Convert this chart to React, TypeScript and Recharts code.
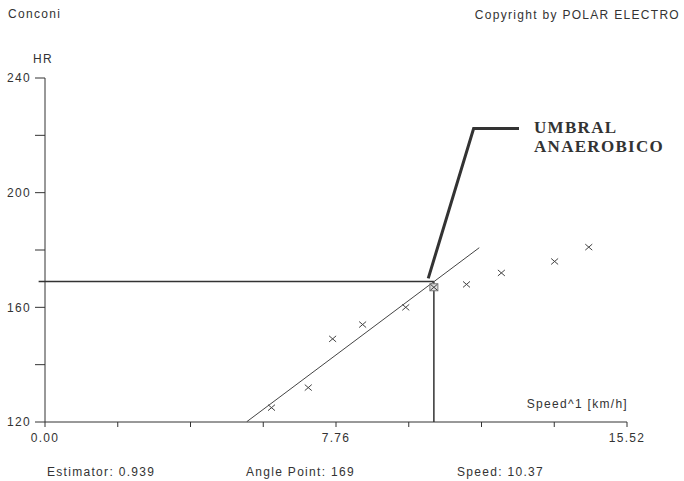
import { ComposedChart, Scatter, XAxis, YAxis, ReferenceLine } from 'recharts'

// Conconi test: running speed (km/h) vs heart rate
const speed = [6.04, 7.02, 7.67, 8.47, 9.62, 10.37, 11.24, 12.17, 13.59, 14.5]
const heartRate = [125, 132, 149, 154, 160, 167, 168, 172, 176, 181]

// regression line through the linear part
const fitSpeed = [5.38, 11.58]
const fitHR = [120.1, 180.8]

// callout leader pointing at the deflection point
const calloutSpeed = [10.22, 11.43, 12.64]
const calloutHR = [170.1, 222.4, 222.4]

const anglePointSpeed = 10.37
const anglePointHR = 169
const anglePointIndex = 5
const estimator = 0.939

const xTicks = [0, 1.94, 3.88, 5.82, 7.76, 9.7, 11.64, 13.58, 15.52]
const xLabeled = [0, 7.76, 15.52]
const yTicks = [120, 140, 160, 180, 200, 220, 240]
const yLabeled = [120, 160, 200, 240]

const points = speed.map((x, i) => ({ x, y: heartRate[i] }))
const fitLine = fitSpeed.map((x, i) => ({ x, y: fitHR[i] }))
const callout = calloutSpeed.map((x, i) => ({ x, y: calloutHR[i] }))

const INK = '#333'
const FONT = '"Liberation Sans", Arial, sans-serif'

function Cross(props: any) {
  const { cx, cy, index } = props
  if (cx == null || cy == null) return <g />
  return (
    <g stroke="#444" strokeWidth={1}>
      {index === anglePointIndex && (
        <rect x={cx - 4} y={cy - 3.5} width={8} height={7} fill="#ddd" stroke="#777" />
      )}
      <line x1={cx - 3.5} y1={cy - 3} x2={cx + 3.5} y2={cy + 3} />
      <line x1={cx - 3.5} y1={cy + 3} x2={cx + 3.5} y2={cy - 3} />
    </g>
  )
}

const noDot = () => <g />

export default function App() {
  const textStyle = { fill: INK, fontSize: 12, fontFamily: FONT, letterSpacing: 1.3 }

  return (
    <div style={{ position: 'absolute', left: 0, top: 0, width: 684, height: 481, background: '#fff' }}>
      <ComposedChart width={684} height={481} margin={{ top: 78, right: 57, bottom: 0, left: 0 }}>
        <XAxis
          type="number"
          dataKey="x"
          domain={[0, 15.52]}
          ticks={xTicks}
          interval={0}
          height={59}
          tickSize={5}
          tickMargin={6}
          stroke={INK}
          tick={textStyle}
          tickFormatter={(v: number) => (xLabeled.includes(v) ? v.toFixed(2) : '')}
          allowDataOverflow
        />
        <YAxis
          type="number"
          dataKey="y"
          domain={[120, 240]}
          ticks={yTicks}
          interval={0}
          width={45}
          tickSize={10}
          tickMargin={4}
          stroke={INK}
          tick={textStyle}
          tickFormatter={(v: number) => (yLabeled.includes(v) ? String(v) : '')}
          allowDataOverflow
        />
        <ReferenceLine
          segment={[{ x: -0.17, y: anglePointHR }, { x: anglePointSpeed, y: anglePointHR }]}
          stroke={INK}
          strokeWidth={1.5}
          ifOverflow="visible"
        />
        <ReferenceLine
          segment={[{ x: anglePointSpeed, y: 120 }, { x: anglePointSpeed, y: anglePointHR }]}
          stroke={INK}
          strokeWidth={1.5}
          ifOverflow="visible"
        />
        <Scatter data={fitLine} line={{ stroke: '#444', strokeWidth: 1 }} shape={noDot} isAnimationActive={false} />
        <Scatter data={callout} line={{ stroke: INK, strokeWidth: 3 }} shape={noDot} isAnimationActive={false} />
        <Scatter data={points} shape={<Cross />} isAnimationActive={false} />
      </ComposedChart>
      <svg width={684} height={481} style={{ position: 'absolute', left: 0, top: 0, pointerEvents: 'none' }}>
        <text x={8} y={18} style={textStyle}>Conconi</text>
        <text x={680} y={19} textAnchor="end" style={textStyle}>Copyright by POLAR ELECTRO</text>
        <text x={33} y={63} style={textStyle}>HR</text>
        <text x={628} y={408} textAnchor="end" style={textStyle}>Speed^1 [km/h]</text>
        <text x={47} y={476} style={textStyle}>Estimator: {estimator.toFixed(3)}</text>
        <text x={246} y={476} style={textStyle}>Angle Point: {anglePointHR}</text>
        <text x={457} y={476} style={textStyle}>Speed: {anglePointSpeed.toFixed(2)}</text>
        <g fill={INK} fontFamily='"Liberation Serif", "Times New Roman", serif' fontWeight="bold" fontSize={17} letterSpacing={1.3}>
          <text x={534} y={133}>UMBRAL</text>
          <text x={534} y={152}>ANAEROBICO</text>
        </g>
      </svg>
    </div>
  )
}
